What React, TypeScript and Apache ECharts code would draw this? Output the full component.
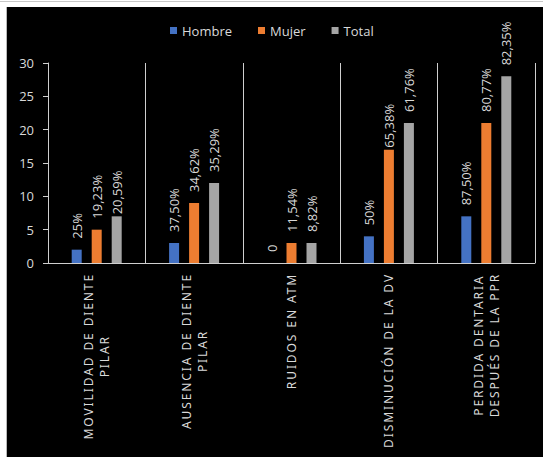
import React, { useEffect, useRef } from "react";
import * as echarts from "echarts";

const categories = [
  "MOVILIDAD DE DIENTE\nPILAR",
  "AUSENCIA DE DIENTE\nPILAR",
  "RUIDOS EN ATM",
  "DISMINUCIÓN DE LA DV",
  "PERDIDA DENTARIA\nDESPUÉS DE LA PPR",
];
const seriesNames = ["Hombre", "Mujer", "Total"];
const hombre = [2, 3, 0, 4, 7];
const mujer = [5, 9, 3, 17, 21];
const total = [7, 12, 3, 21, 28];
const hombreLabels = ["25%", "37,50%", "0", "50%", "87,50%"];
const mujerLabels = ["19,23%", "34,62%", "11,54%", "65,38%", "80,77%"];
const totalLabels = ["20,59%", "35,29%", "8,82%", "61,76%", "82,35%"];
const yMin = 0;
const yMax = 30;
const yInterval = 5;

const COLORS = ["#4472C4", "#ED7D31", "#A5A5A5"];
const TXT = "#d9d9d9";
const LINE = "#cfcfcf";
const LETTER_SPACING = 1.9;
// labels that Excel placed closer to their bar: [seriesIndex, categoryIndex]
const closeLabels = [
  [2, 0],
  [1, 3],
];

export default function App() {
  const ref = useRef<HTMLDivElement>(null);
  useEffect(() => {
    if (!ref.current) return;
    const chart = echarts.init(ref.current, null, { renderer: "svg" });
    const values = [hombre, mujer, total];
    const labels = [hombreLabels, mujerLabels, totalLabels];
    const series = values.map((vals, si) => ({
      name: seriesNames[si],
      type: "bar",
      barWidth: 10,
      barGap: "100%",
      itemStyle: { color: COLORS[si] },
      label: {
        show: true,
        position: "top",
        rotate: 90,
        align: "left",
        verticalAlign: "middle",
        distance: 11,
        color: TXT,
        fontFamily: "Open Sans",
        fontSize: 13,
        formatter: (p: any) => labels[si][p.dataIndex],
      },
      data: vals.map((v, ci) => {
        const close = closeLabels.some(([s, c]) => s === si && c === ci);
        return close ? { value: v, label: { distance: 2 } } : v;
      }),
    }));
    chart.setOption({
      animation: false,
      backgroundColor: "#000000",
      textStyle: { fontFamily: "Open Sans" },
      legend: {
        data: seriesNames,
        left: 158,
        top: 12,
        itemWidth: 7,
        itemHeight: 7,
        itemGap: 26,
        icon: "rect",
        textStyle: { color: TXT, fontSize: 13, fontFamily: "Open Sans" },
      },
      grid: { left: 41, right: 8, top: 56, bottom: 194 },
      xAxis: {
        type: "category",
        data: categories.map((c) => {
          const maxChars = Math.max(...c.split("\n").map((l) => l.length));
          return {
            value: c,
            textStyle: { padding: [0, (maxChars * LETTER_SPACING) / 2, 0, 0] },
          };
        }),
        axisLine: { show: true, lineStyle: { color: LINE, width: 1 } },
        axisTick: { show: false },
        splitLine: { show: true, lineStyle: { color: LINE, width: 1 } },
        axisLabel: {
          rotate: 90,
          margin: 10,
          interval: 0,
          formatter: (v: string) =>
            v
              .split("\n")
              .map((l) => `{c|${l}}`)
              .join("\n"),
          rich: {
            c: {
              align: "center",
              fontFamily: "Noto Sans",
              fontSize: 12,
              color: TXT,
              lineHeight: 16,
            },
          },
        },
      },
      yAxis: {
        type: "value",
        min: yMin,
        max: yMax,
        interval: yInterval,
        axisLine: { show: true, lineStyle: { color: LINE, width: 1 } },
        axisTick: { show: true, length: 5, lineStyle: { color: LINE } },
        splitLine: { show: false },
        axisLabel: {
          color: TXT,
          fontSize: 13,
          fontFamily: "Open Sans",
          margin: 14,
        },
      },
      series,
    });
    return () => chart.dispose();
  }, []);
  return (
    <div>
      <style>{`#chartbox text[style*="Noto Sans"] { letter-spacing: ${LETTER_SPACING}px; }`}</style>
      <div
        style={{
          position: "fixed",
          left: 6,
          top: 7,
          width: 1,
          height: 450,
          background: "#b8b8b8",
        }}
      />
      <div
        style={{
          position: "fixed",
          left: 0,
          top: 1,
          width: 543,
          height: 1,
          background: "#c8c8c8",
        }}
      />
      <div
        id="chartbox"
        ref={ref}
        style={{ position: "fixed", left: 7, top: 7, width: 536, height: 450 }}
      />
    </div>
  );
}
